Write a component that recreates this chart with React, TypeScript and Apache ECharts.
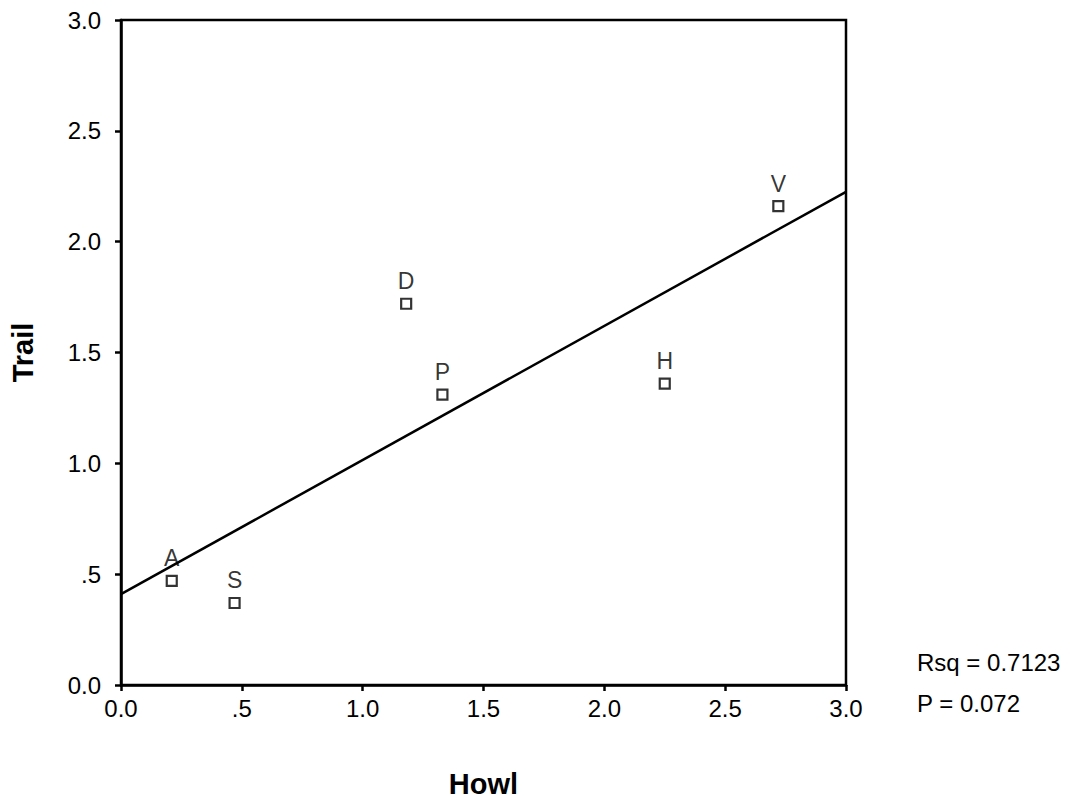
import React, { useEffect, useRef } from "react";
import * as echarts from "echarts";

const pointNames = ["A", "S", "D", "P", "H", "V"];
const howl = [0.21, 0.47, 1.18, 1.33, 2.25, 2.72];
const trail = [0.47, 0.37, 1.72, 1.31, 1.36, 2.16];
const fitLine = [
  [0, 0.41],
  [3, 2.225],
];
const statsText = ["Rsq = 0.7123", "P = 0.072"];
const xName = "Howl";
const yName = "Trail";

const FONT = "'Liberation Sans', Arial, Helvetica, sans-serif";

const fmt = (v: number) => (Math.abs(v - 0.5) < 1e-9 ? ".5" : v.toFixed(1));

export default function App() {
  const ref = useRef<HTMLDivElement>(null);
  useEffect(() => {
    if (!ref.current) return;
    const chart = echarts.init(ref.current, null, { renderer: "svg" });
    const axisCommon = {
      type: "value" as const,
      min: 0,
      max: 3,
      interval: 0.5,
      splitLine: { show: false },
      axisLine: { show: true, lineStyle: { color: "#000", width: 2.5 } },
      axisTick: { show: true, length: 6, inside: false, lineStyle: { color: "#000", width: 2.5 } },
      nameLocation: "middle" as const,
      nameTextStyle: { fontFamily: FONT, fontSize: 29, fontWeight: "bold" as const, color: "#000" },
    };
    chart.setOption({
      animation: false,
      backgroundColor: "#fff",
      grid: {
        left: 121,
        right: 228,
        top: 20,
        bottom: 119,
        show: true,
        borderColor: "#000",
        borderWidth: 2.5,
      },
      xAxis: {
        ...axisCommon,
        name: xName,
        nameGap: 84,
        axisLabel: { fontFamily: FONT, fontSize: 24, color: "#000", margin: 11, formatter: fmt },
      },
      yAxis: {
        ...axisCommon,
        name: yName,
        nameGap: 84,
        nameRotate: 90,
        axisLabel: { fontFamily: FONT, fontSize: 24, color: "#000", margin: 20, formatter: fmt },
      },
      series: [
        {
          type: "line",
          data: fitLine,
          showSymbol: false,
          symbol: "none",
          lineStyle: { color: "#000", width: 2.5 },
          silent: true,
        },
        {
          type: "scatter",
          symbol: "rect",
          symbolSize: 10,
          itemStyle: { color: "#fff", borderColor: "#000", borderWidth: 2.2 },
          data: howl.map((x, i) => ({ value: [x, trail[i]], name: pointNames[i] })),
          label: {
            show: true,
            position: "top",
            distance: 5,
            formatter: (p: any) => p.name,
            fontFamily: FONT,
            fontSize: 23,
            color: "#000",
          },
        },
      ],
      graphic: statsText.map((t, i) => ({
        type: "text",
        left: 917,
        top: 650 + i * 41,
        style: { text: t, fontFamily: FONT, fontSize: 24, fill: "#000" },
      })),
    });
    return () => chart.dispose();
  }, []);
  return (
    <div
      ref={ref}
      style={{ position: "fixed", left: 0, top: 0, width: 1074, height: 804, background: "#fff" }}
    />
  );
}
